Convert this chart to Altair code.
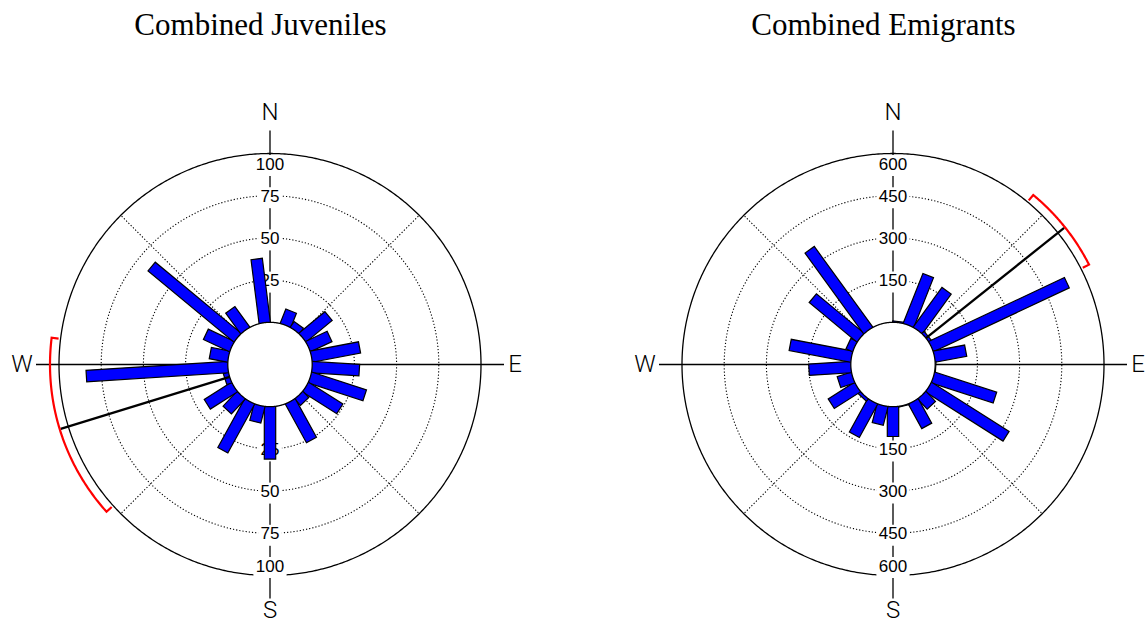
import numpy as np
import pandas as pd
import altair as alt

# ---- data -------------------------------------------------------------
# bin centres in degrees clockwise from north (25 bins of 14.4 degrees)
bin_centres = [7.2, 21.6, 36.0, 50.4, 64.8, 79.2, 93.6, 108.0, 122.4, 136.8,
               151.2, 165.6, 180.0, 194.4, 208.8, 223.2, 237.6, 252.0, 266.4,
               280.8, 295.2, 309.6, 324.0, 338.4, 352.8]

juvenile_counts = [0, 9, 4, 20, 14, 29, 28, 34, 24, 5, 26, 0, 31, 10, 33,
                   12, 19, 3, 84, 11, 17, 66, 15, 0, 38]
emigrant_counts = [4, 190, 174, 10, 533, 113, 2, 231, 326, 49, 99, 2, 106,
                   68, 135, 10, 110, 52, 149, 222, 25, 220, 354, 0, 0]

juvenile_ticks = [25, 50, 75, 100]
emigrant_ticks = [150, 300, 450, 600]

juvenile_mean = 252.9
juvenile_ci = [228.0, 277.0]
emigrant_mean = 51.4
emigrant_ci = [39.6, 63.0]

titles = ["Combined Juveniles", "Combined Emigrants"]
compass = ["N", "E", "S", "W"]

# ---- geometry ---------------------------------------------------------
PX = 211.0                       # pixels per unit radius (outer ring = 1)
HOLE = 0.2                       # empty centre, in units of the outer ring
HEIGHT = 623
CENTRE_Y = 364.5
Y_DOMAIN = [-(HEIGHT - CENTRE_Y) / PX, CENTRE_Y / PX]


def px(p):
    return p / PX


def radius(value, vmax):
    return HOLE + (1 - HOLE) * value / vmax


def polar(u, deg):
    t = np.radians(deg)
    return u * np.sin(t), u * np.cos(t)


def panel(counts, ticks, mean_dir, ci, title, x_domain, width):
    vmax = ticks[-1]
    xs = alt.Scale(domain=x_domain, nice=False, zero=False)
    ys = alt.Scale(domain=Y_DOMAIN, nice=False, zero=False)

    def X(f):
        return alt.X(f, type="quantitative", scale=xs, axis=None)

    def Y(f):
        return alt.Y(f, type="quantitative", scale=ys, axis=None)

    # concentric rings
    deg = np.linspace(0, 360, 721)
    rows = []
    for j, t in enumerate(ticks):
        cx, cy = polar(radius(t, vmax), deg)
        for k in range(len(deg)):
            rows.append({"ring": j, "k": k, "x": cx[k], "y": cy[k], "outer": t == vmax})
    rings = pd.DataFrame(rows)
    dotted = alt.Chart(rings[~rings.outer]).mark_line(
        color="black", strokeWidth=1.1, strokeDash=[1.2, 2]
    ).encode(x=X("x"), y=Y("y"), detail="ring:N", order="k:Q")
    outer = alt.Chart(rings[rings.outer]).mark_line(
        color="black", strokeWidth=1.3
    ).encode(x=X("x"), y=Y("y"), detail="ring:N", order="k:Q")

    # dotted diagonal spokes
    diag = [45, 135, 225, 315]
    sx0, sy0 = polar(HOLE, np.array(diag, float))
    sx1, sy1 = polar(1.0, np.array(diag, float))
    spokes = alt.Chart(pd.DataFrame({"x0": sx0, "y0": sy0, "x1": sx1, "y1": sy1})).mark_rule(
        color="black", strokeWidth=1.1, strokeDash=[1.2, 2]
    ).encode(x=X("x0"), y=Y("y0"), x2="x1:Q", y2="y1:Q")

    # solid compass cross
    reach = px(234)
    cross = alt.Chart(pd.DataFrame({
        "x0": [-reach, 0.0], "y0": [0.0, -reach], "x1": [reach, 0.0], "y1": [0.0, reach]
    })).mark_rule(color="black", strokeWidth=1.3).encode(
        x=X("x0"), y=Y("y0"), x2="x1:Q", y2="y1:Q")

    # ring labels on the vertical axis, with white backing
    lab = []
    for t in ticks:
        c = radius(t, vmax)
        if t == vmax:
            c -= px(10)
        for side in (1, -1):
            yc = side * c
            half = px(len(str(t)) * 4.7 + 2.5)
            lab.append({"t": str(t), "x": 0.0, "yb": yc - px(6.0),
                        "bx0": -half, "bx1": half,
                        "by0": yc + px(8.5), "by1": yc - px(12.5)})
    lab = pd.DataFrame(lab)
    backs = alt.Chart(lab).mark_rect(color="white").encode(
        x=X("bx0"), x2="bx1:Q", y=Y("by0"), y2="by1:Q")
    tick_text = alt.Chart(lab).mark_text(
        color="black", font="Liberation Sans", fontSize=17, baseline="alphabetic", align="center"
    ).encode(x=X("x"), y=Y("yb"), text="t:N")

    # bars as rectangles of constant width, drawn from the centre hole outward
    hw = px(5.7)
    brow = []
    for b, (ang, n) in enumerate(zip(bin_centres, counts)):
        if n <= 0:
            continue
        u0, u1 = HOLE - 0.04, radius(n, vmax)
        t = np.radians(ang)
        d = np.array([np.sin(t), np.cos(t)])
        p = np.array([np.cos(t), -np.sin(t)])
        corners = [u0 * d + hw * p, u1 * d + hw * p, u1 * d - hw * p, u0 * d - hw * p, u0 * d + hw * p]
        for k, c in enumerate(corners):
            brow.append({"bar": b, "k": k, "x": c[0], "y": c[1], "count": n, "dir": ang})
    bars = alt.Chart(pd.DataFrame(brow)).mark_line(
        fill="#0000ff", stroke="black", strokeWidth=1.2, strokeJoin="miter"
    ).encode(x=X("x"), y=Y("y"), detail="bar:N", order="k:Q")

    # white centre
    hx, hy = polar(HOLE, deg)
    hole = alt.Chart(pd.DataFrame({"k": range(len(deg)), "x": hx, "y": hy})).mark_line(
        fill="white", stroke="black", strokeWidth=1.3
    ).encode(x=X("x"), y=Y("y"), order="k:Q")

    # mean direction
    mx0, my0 = polar(HOLE, mean_dir)
    mx1, my1 = polar(px(219), mean_dir)
    mean_line = alt.Chart(pd.DataFrame({"x0": [mx0], "y0": [my0], "x1": [mx1], "y1": [my1]})).mark_rule(
        color="black", strokeWidth=2.3
    ).encode(x=X("x0"), y=Y("y0"), x2="x1:Q", y2="y1:Q")

    # confidence bracket
    ua, ub = px(220), px(213)
    arc_deg = np.linspace(ci[0], ci[1], 100)
    path = [polar(ub, ci[0])] + [polar(ua, a) for a in arc_deg] + [polar(ub, ci[1])]
    bracket = alt.Chart(pd.DataFrame({
        "k": range(len(path)), "x": [q[0] for q in path], "y": [q[1] for q in path]
    })).mark_line(color="#ff0000", strokeWidth=2.2).encode(x=X("x"), y=Y("y"), order="k:Q")

    # compass letters
    def letter(text, x, y):
        return alt.Chart(pd.DataFrame({"t": [text], "x": [x], "y": [y]})).mark_text(
            color="black", font="Roboto", fontWeight=300, fontSize=24,
            baseline="middle", align="center"
        ).encode(x=X("x"), y=Y("y"), text="t:N")

    letters = [
        letter(compass[0], 0.0, px(252)),
        letter(compass[1], px(245), 0.0),
        letter(compass[2], 0.0, -px(246.5)),
        letter(compass[3], -px(248), 0.0),
    ]

    heading = alt.Chart(pd.DataFrame({"t": [title], "x": [-px(9.5)], "y": [px(CENTRE_Y - 34.5)]})).mark_text(
        color="black", font="Liberation Serif", fontSize=31, baseline="alphabetic", align="center"
    ).encode(x=X("x"), y=Y("y"), text="t:N")

    return alt.layer(
        dotted, spokes, outer, cross, backs, tick_text, bars, hole,
        mean_line, bracket, *letters, heading
    ).properties(width=width, height=HEIGHT)


left = panel(juvenile_counts, juvenile_ticks, juvenile_mean, juvenile_ci, titles[0],
             [-px(270), px(270)], 540)
right = panel(emigrant_counts, emigrant_ticks, emigrant_mean, emigrant_ci, titles[1],
              [-px(270), px(253)], 523)

chart = alt.hconcat(left, right, spacing=83).properties(
    padding=0, background="white"
).configure_view(strokeWidth=0)

chart.save("out.html", embed_options={"renderer": "svg", "actions": False})
